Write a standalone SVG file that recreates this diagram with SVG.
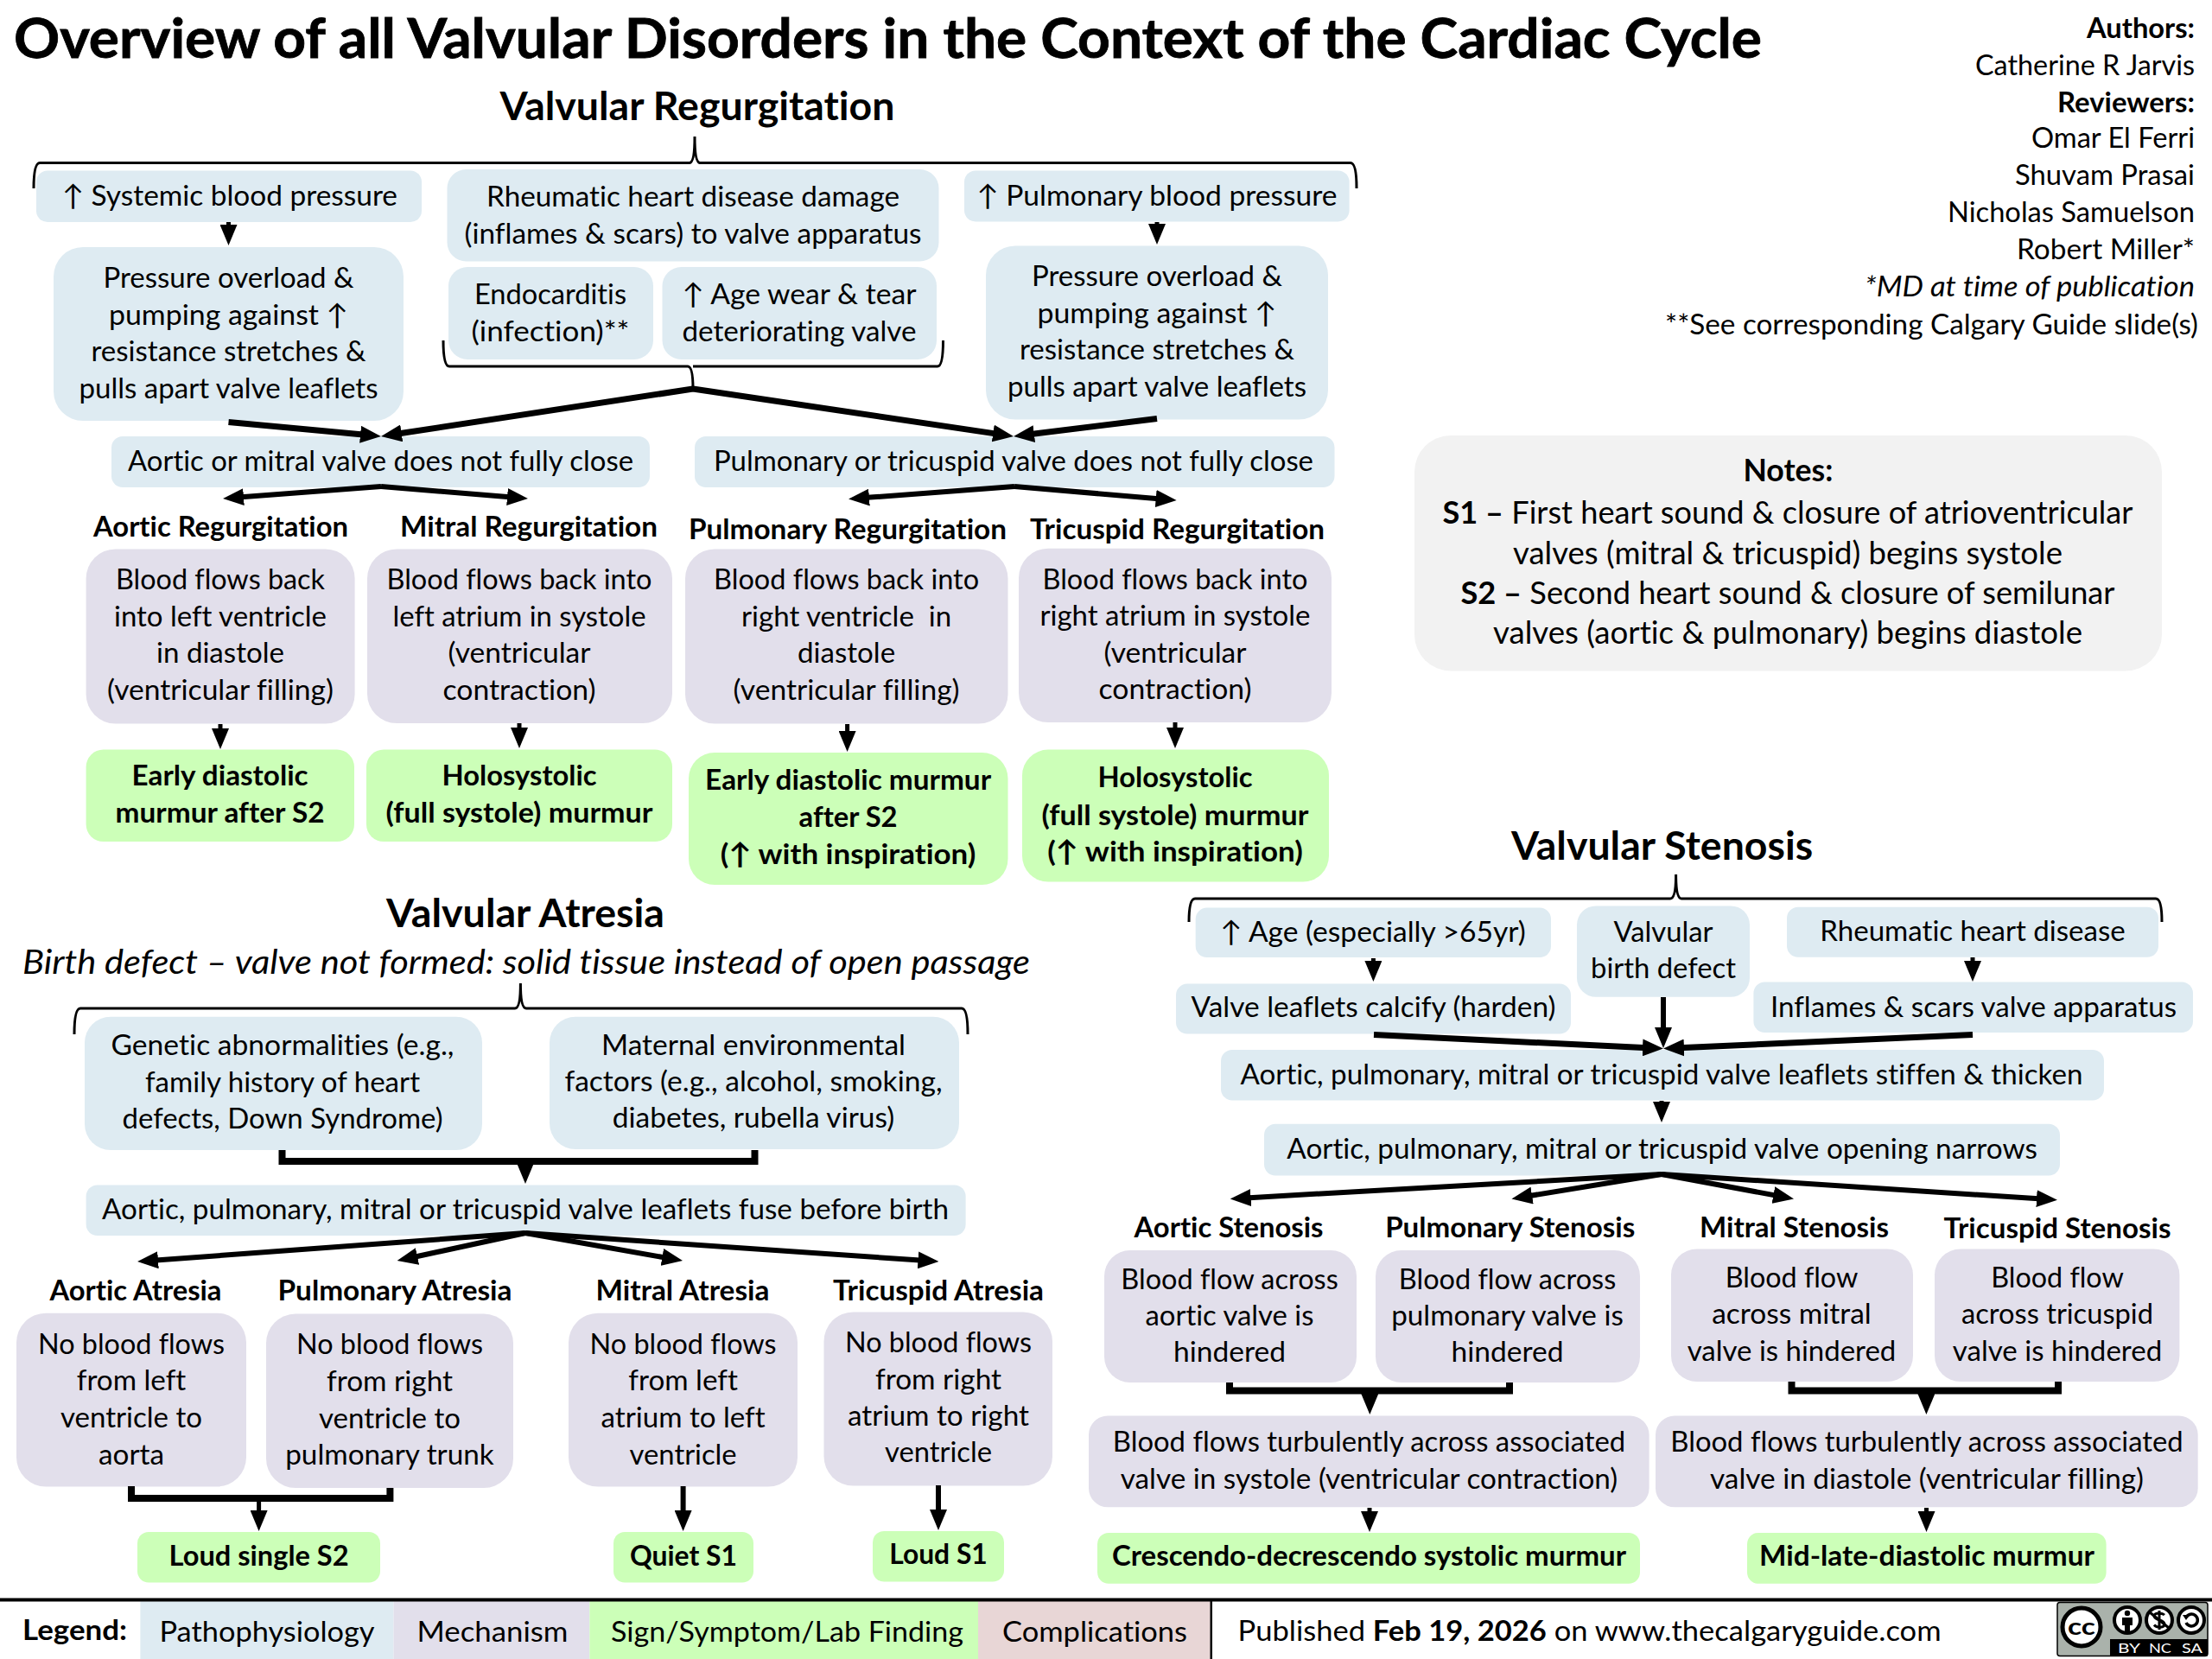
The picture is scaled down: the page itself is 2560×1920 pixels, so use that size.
<svg xmlns="http://www.w3.org/2000/svg" width="2560" height="1920" viewBox="0 0 2560 1920">
<style>
text{font-family:Lato,"Noto Sans","DejaVu Sans",sans-serif;font-size:33px;text-anchor:middle;fill:#000;font-variant-ligatures:none}
.bd{font-weight:700}
.it{font-style:italic}
.r{text-anchor:end}
.s{text-anchor:start}
.h{font-weight:700;font-size:33px}
.sec{font-weight:700;font-size:45px}
.n{font-size:36px}
.pb{fill:#deebf2}
.pu{fill:#e2dfeb}
.gr{fill:#ccffb8}
.re{fill:#e8d6d6}
.no{fill:#f2f2f2}
.br{fill:none;stroke:#000;stroke-width:3}
.th{fill:none;stroke:#000;stroke-width:7;marker-end:url(#ah)}
.me{fill:none;stroke:#000;stroke-width:6;marker-end:url(#ah)}
.sm{fill:none;stroke:#000;stroke-width:5;marker-end:url(#ah)}
.bk{fill:none;stroke:#000;stroke-width:8}
</style>
<defs>
<marker id="ah" markerUnits="userSpaceOnUse" markerWidth="24" markerHeight="20" viewBox="0 0 24 20" refX="6" refY="10" orient="auto"><path d="M0 0L24 10L0 20Z" fill="#000"/></marker>
</defs>
<rect width="2560" height="1920" fill="#fff"/>

<g id="titles">
<text class="s bd" x="16" y="67" style="font-size:64px;stroke:#000;stroke-width:.8" textLength="2023" lengthAdjust="spacingAndGlyphs">Overview of all Valvular Disorders in the Context of the Cardiac Cycle</text>
<text class="sec" x="807" y="139" textLength="457" lengthAdjust="spacingAndGlyphs">Valvular Regurgitation</text>
<text class="sec" x="608" y="1073" textLength="322" lengthAdjust="spacingAndGlyphs">Valvular Atresia</text>
<text class="it" style="font-size:38px" x="609" y="1127" textLength="1166" lengthAdjust="spacingAndGlyphs">Birth defect – valve not formed: solid tissue instead of open passage</text>
<text class="sec" x="1923.6" y="995" textLength="349" lengthAdjust="spacingAndGlyphs">Valvular Stenosis</text>
</g>

<g id="authors">
<text class="r bd" x="2540" y="44" textLength="125" lengthAdjust="spacingAndGlyphs">Authors:</text>
<text class="r" x="2540" y="87" textLength="254" lengthAdjust="spacingAndGlyphs">Catherine R Jarvis</text>
<text class="r bd" x="2540" y="130" textLength="159" lengthAdjust="spacingAndGlyphs">Reviewers:</text>
<text class="r" x="2540" y="171" textLength="189" lengthAdjust="spacingAndGlyphs">Omar El Ferri</text>
<text class="r" x="2540" y="214" textLength="208" lengthAdjust="spacingAndGlyphs">Shuvam Prasai</text>
<text class="r" x="2540" y="257" textLength="286" lengthAdjust="spacingAndGlyphs">Nicholas Samuelson</text>
<text class="r" x="2540" y="300" textLength="206" lengthAdjust="spacingAndGlyphs">Robert Miller*</text>
<text class="r it" x="2540" y="343" textLength="382" lengthAdjust="spacingAndGlyphs">*MD at time of publication</text>
<text class="r" x="2544" y="387" textLength="617" lengthAdjust="spacingAndGlyphs">**See corresponding Calgary Guide slide(s)</text>
</g>

<g id="notes">
<rect class="no" x="1637" y="504" width="865" height="272.5" rx="42"/>
<text class="n bd" x="2069.4" y="557" textLength="104" lengthAdjust="spacingAndGlyphs">Notes:</text>
<text class="n" x="2069" y="606" textLength="799" lengthAdjust="spacingAndGlyphs"><tspan class="bd">S1 –</tspan> First heart sound &amp; closure of atrioventricular</text>
<text class="n" x="2069" y="653" textLength="636" lengthAdjust="spacingAndGlyphs">valves (mitral &amp; tricuspid) begins systole</text>
<text class="n" x="2069" y="699" textLength="757" lengthAdjust="spacingAndGlyphs"><tspan class="bd">S2 –</tspan> Second heart sound &amp; closure of semilunar</text>
<text class="n" x="2069" y="745" textLength="682" lengthAdjust="spacingAndGlyphs">valves (aortic &amp; pulmonary) begins diastole</text>
</g>

<g id="n-sys"><rect class="pb" x="42" y="197.5" width="446" height="59.5" rx="13"/>
<text x="266" y="237.5" textLength="388" lengthAdjust="spacingAndGlyphs">↑ Systemic blood pressure</text></g>
<g id="n-over1"><rect class="pb" x="62" y="286" width="405" height="201" rx="34"/>
<text x="264.5" y="333" textLength="290" lengthAdjust="spacingAndGlyphs">Pressure overload &amp;</text>
<text x="264.5" y="375.5" textLength="277" lengthAdjust="spacingAndGlyphs">pumping against ↑</text>
<text x="264.5" y="418" textLength="318" lengthAdjust="spacingAndGlyphs">resistance stretches &amp;</text>
<text x="264.5" y="461" textLength="346" lengthAdjust="spacingAndGlyphs">pulls apart valve leaflets</text></g>
<g id="n-rheum"><rect class="pb" x="517.5" y="196" width="569" height="106.5" rx="22"/>
<text x="802" y="239" textLength="478" lengthAdjust="spacingAndGlyphs">Rheumatic heart disease damage</text>
<text x="802" y="281.6" textLength="529" lengthAdjust="spacingAndGlyphs">(inflames &amp; scars) to valve apparatus</text></g>
<g id="n-endo"><rect class="pb" x="519" y="309" width="237" height="107" rx="22"/>
<text x="637" y="352" textLength="176" lengthAdjust="spacingAndGlyphs">Endocarditis</text>
<text x="637" y="395" textLength="183" lengthAdjust="spacingAndGlyphs">(infection)**</text></g>
<g id="n-age"><rect class="pb" x="766.5" y="309" width="317.5" height="107" rx="22"/>
<text x="925" y="352" textLength="271" lengthAdjust="spacingAndGlyphs">↑ Age wear &amp; tear</text>
<text x="925" y="395" textLength="271" lengthAdjust="spacingAndGlyphs">deteriorating valve</text></g>
<g id="n-pulm"><rect class="pb" x="1116" y="197.5" width="445.6" height="59" rx="13"/>
<text x="1339" y="237.5" textLength="417" lengthAdjust="spacingAndGlyphs">↑ Pulmonary blood pressure</text></g>
<g id="n-over2"><rect class="pb" x="1141" y="284.5" width="396" height="201" rx="34"/>
<text x="1339" y="331.4" textLength="290" lengthAdjust="spacingAndGlyphs">Pressure overload &amp;</text>
<text x="1339" y="373.5" textLength="277" lengthAdjust="spacingAndGlyphs">pumping against ↑</text>
<text x="1339" y="416" textLength="318" lengthAdjust="spacingAndGlyphs">resistance stretches &amp;</text>
<text x="1339" y="459" textLength="346" lengthAdjust="spacingAndGlyphs">pulls apart valve leaflets</text></g>
<g id="n-am"><rect class="pb" x="129" y="505" width="623" height="59" rx="13"/>
<text x="440.5" y="545" textLength="585" lengthAdjust="spacingAndGlyphs">Aortic or mitral valve does not fully close</text></g>
<g id="n-pt"><rect class="pb" x="804" y="505" width="740.5" height="59" rx="13"/>
<text x="1173" y="545" textLength="694" lengthAdjust="spacingAndGlyphs">Pulmonary or tricuspid valve does not fully close</text></g>

<g id="n-ar"><text class="h" x="255.5" y="621" textLength="295" lengthAdjust="spacingAndGlyphs">Aortic Regurgitation</text>
<rect class="pu" x="99.6" y="635.5" width="311" height="202" rx="34"/>
<text x="255" y="682.4" textLength="242" lengthAdjust="spacingAndGlyphs">Blood flows back</text>
<text x="255" y="725" textLength="246" lengthAdjust="spacingAndGlyphs">into left ventricle</text>
<text x="255" y="767.4" textLength="148" lengthAdjust="spacingAndGlyphs">in diastole</text>
<text x="255" y="810" textLength="262" lengthAdjust="spacingAndGlyphs">(ventricular filling)</text></g>
<g id="n-mr"><text class="h" x="612" y="621" textLength="298" lengthAdjust="spacingAndGlyphs">Mitral Regurgitation</text>
<rect class="pu" x="425" y="635.5" width="353" height="201.5" rx="34"/>
<text x="601" y="682.4" textLength="307" lengthAdjust="spacingAndGlyphs">Blood flows back into</text>
<text x="601" y="725" textLength="293" lengthAdjust="spacingAndGlyphs">left atrium in systole</text>
<text x="601" y="767.4" textLength="165" lengthAdjust="spacingAndGlyphs">(ventricular</text>
<text x="601" y="810" textLength="177" lengthAdjust="spacingAndGlyphs">contraction)</text></g>
<g id="n-pr"><text class="h" x="981" y="624" textLength="368" lengthAdjust="spacingAndGlyphs">Pulmonary Regurgitation</text>
<rect class="pu" x="793" y="635.5" width="373.5" height="202" rx="34"/>
<text x="979.6" y="682.4" textLength="307" lengthAdjust="spacingAndGlyphs">Blood flows back into</text>
<text x="979.6" y="725" textLength="243" lengthAdjust="spacingAndGlyphs" xml:space="preserve">right ventricle  in</text>
<text x="979.6" y="767.4" textLength="113" lengthAdjust="spacingAndGlyphs">diastole</text>
<text x="979.6" y="810" textLength="262" lengthAdjust="spacingAndGlyphs">(ventricular filling)</text></g>
<g id="n-tr"><text class="h" x="1362.5" y="624" textLength="341" lengthAdjust="spacingAndGlyphs">Tricuspid Regurgitation</text>
<rect class="pu" x="1179" y="634.7" width="362" height="201.3" rx="34"/>
<text x="1360" y="681.5" textLength="307" lengthAdjust="spacingAndGlyphs">Blood flows back into</text>
<text x="1360" y="724" textLength="313" lengthAdjust="spacingAndGlyphs">right atrium in systole</text>
<text x="1360" y="766.5" textLength="165" lengthAdjust="spacingAndGlyphs">(ventricular</text>
<text x="1360" y="809" textLength="177" lengthAdjust="spacingAndGlyphs">contraction)</text></g>

<g id="n-g1"><rect class="gr" x="99.6" y="867.6" width="310.4" height="106.4" rx="20"/>
<text class="bd" x="254.6" y="909" textLength="204" lengthAdjust="spacingAndGlyphs">Early diastolic</text>
<text class="bd" x="254.6" y="951.7" textLength="242" lengthAdjust="spacingAndGlyphs">murmur after S2</text></g>
<g id="n-g2"><rect class="gr" x="424" y="867.6" width="354" height="106.4" rx="20"/>
<text class="bd" x="601" y="909" textLength="179" lengthAdjust="spacingAndGlyphs">Holosystolic</text>
<text class="bd" x="601" y="951.7" textLength="309" lengthAdjust="spacingAndGlyphs">(full systole) murmur</text></g>
<g id="n-g3"><rect class="gr" x="797" y="871" width="369.5" height="153" rx="30"/>
<text class="bd" x="981.6" y="914.4" textLength="331" lengthAdjust="spacingAndGlyphs">Early diastolic murmur</text>
<text class="bd" x="981.6" y="956.5" textLength="114" lengthAdjust="spacingAndGlyphs">after S2</text>
<text class="bd" x="981.6" y="999.8" textLength="295.5" lengthAdjust="spacingAndGlyphs">(↑ with inspiration)</text></g>
<g id="n-g4"><rect class="gr" x="1183" y="867.6" width="355" height="153" rx="30"/>
<text class="bd" x="1360" y="911.4" textLength="179" lengthAdjust="spacingAndGlyphs">Holosystolic</text>
<text class="bd" x="1360" y="954.7" textLength="309" lengthAdjust="spacingAndGlyphs">(full systole) murmur</text>
<text class="bd" x="1360" y="996.8" textLength="295.5" lengthAdjust="spacingAndGlyphs">(↑ with inspiration)</text></g>

<g id="n-gen"><rect class="pb" x="98" y="1176.8" width="460" height="154.2" rx="30"/>
<text x="327" y="1221.4" textLength="397" lengthAdjust="spacingAndGlyphs">Genetic abnormalities (e.g.,</text>
<text x="327" y="1263.5" textLength="318" lengthAdjust="spacingAndGlyphs">family history of heart</text>
<text x="327" y="1306" textLength="371" lengthAdjust="spacingAndGlyphs">defects, Down Syndrome)</text></g>
<g id="n-mat"><rect class="pb" x="636" y="1176.8" width="474" height="153.2" rx="30"/>
<text x="872" y="1221" textLength="352" lengthAdjust="spacingAndGlyphs">Maternal environmental</text>
<text x="872" y="1263" textLength="437" lengthAdjust="spacingAndGlyphs">factors (e.g., alcohol, smoking,</text>
<text x="872" y="1305" textLength="326.5" lengthAdjust="spacingAndGlyphs">diabetes, rubella virus)</text></g>
<g id="n-fuse"><rect class="pb" x="99.6" y="1371.4" width="1018" height="58.6" rx="13"/>
<text x="608" y="1411" textLength="980" lengthAdjust="spacingAndGlyphs">Aortic, pulmonary, mitral or tricuspid valve leaflets fuse before birth</text></g>

<g id="n-aa"><text class="h" x="157" y="1504.5" textLength="199" lengthAdjust="spacingAndGlyphs">Aortic Atresia</text>
<rect class="pu" x="19" y="1519.7" width="266" height="200.8" rx="34"/>
<text x="152" y="1566.5" textLength="216" lengthAdjust="spacingAndGlyphs">No blood flows</text>
<text x="152" y="1608.6" textLength="126.5" lengthAdjust="spacingAndGlyphs">from left</text>
<text x="152" y="1652" textLength="164" lengthAdjust="spacingAndGlyphs">ventricle to</text>
<text x="152" y="1694.5" textLength="76" lengthAdjust="spacingAndGlyphs">aorta</text></g>
<g id="n-pa"><text class="h" x="457" y="1504.5" textLength="271" lengthAdjust="spacingAndGlyphs">Pulmonary Atresia</text>
<rect class="pu" x="308" y="1520.6" width="286" height="201.4" rx="34"/>
<text x="451" y="1567.4" textLength="216" lengthAdjust="spacingAndGlyphs">No blood flows</text>
<text x="451" y="1610" textLength="146" lengthAdjust="spacingAndGlyphs">from right</text>
<text x="451" y="1653" textLength="164" lengthAdjust="spacingAndGlyphs">ventricle to</text>
<text x="451" y="1695" textLength="241.6" lengthAdjust="spacingAndGlyphs">pulmonary trunk</text></g>
<g id="n-ma"><text class="h" x="790" y="1504.5" textLength="201" lengthAdjust="spacingAndGlyphs">Mitral Atresia</text>
<rect class="pu" x="658" y="1519.7" width="265" height="200.8" rx="34"/>
<text x="790.6" y="1566.5" textLength="216" lengthAdjust="spacingAndGlyphs">No blood flows</text>
<text x="790.6" y="1608.6" textLength="126.5" lengthAdjust="spacingAndGlyphs">from left</text>
<text x="790.6" y="1652" textLength="190" lengthAdjust="spacingAndGlyphs">atrium to left</text>
<text x="790.6" y="1694.5" textLength="124" lengthAdjust="spacingAndGlyphs">ventricle</text></g>
<g id="n-ta"><text class="h" x="1086" y="1504.5" textLength="244" lengthAdjust="spacingAndGlyphs">Tricuspid Atresia</text>
<rect class="pu" x="953.5" y="1518.4" width="264.5" height="201.2" rx="34"/>
<text x="1086" y="1565" textLength="216" lengthAdjust="spacingAndGlyphs">No blood flows</text>
<text x="1086" y="1607.7" textLength="146" lengthAdjust="spacingAndGlyphs">from right</text>
<text x="1086" y="1650" textLength="210" lengthAdjust="spacingAndGlyphs">atrium to right</text>
<text x="1086" y="1692" textLength="124" lengthAdjust="spacingAndGlyphs">ventricle</text></g>
<g id="n-ls2"><rect class="gr" x="159" y="1773" width="281" height="58.5" rx="13"/>
<text class="bd" x="299.6" y="1812.4" textLength="208" lengthAdjust="spacingAndGlyphs">Loud single S2</text></g>
<g id="n-qs1"><rect class="gr" x="710" y="1773" width="162" height="58.5" rx="13"/>
<text class="bd" x="791" y="1812.4" textLength="124" lengthAdjust="spacingAndGlyphs">Quiet S1</text></g>
<g id="n-ls1"><rect class="gr" x="1010" y="1772" width="152" height="58.6" rx="13"/>
<text class="bd" x="1086" y="1810" textLength="113.5" lengthAdjust="spacingAndGlyphs">Loud S1</text></g>

<g id="n-sage"><rect class="pb" x="1383.7" y="1050.6" width="411.3" height="57.4" rx="13"/>
<text x="1589" y="1090" textLength="353.5" lengthAdjust="spacingAndGlyphs">↑ Age (especially &gt;65yr)</text></g>
<g id="n-calc"><rect class="pb" x="1361" y="1138.6" width="457" height="58" rx="13"/>
<text x="1589.5" y="1176.8" textLength="422" lengthAdjust="spacingAndGlyphs">Valve leaflets calcify (harden)</text></g>
<g id="n-bd"><rect class="pb" x="1825" y="1048.4" width="200" height="105.4" rx="22"/>
<text x="1925" y="1090" textLength="115" lengthAdjust="spacingAndGlyphs">Valvular</text>
<text x="1925" y="1131.6" textLength="168" lengthAdjust="spacingAndGlyphs">birth defect</text></g>
<g id="n-srh"><rect class="pb" x="2068" y="1049.7" width="430" height="58.1" rx="13"/>
<text x="2283" y="1089" textLength="353.5" lengthAdjust="spacingAndGlyphs">Rheumatic heart disease</text></g>
<g id="n-infl"><rect class="pb" x="2029.4" y="1136.4" width="508.6" height="58.6" rx="13"/>
<text x="2284" y="1176.8" textLength="470" lengthAdjust="spacingAndGlyphs">Inflames &amp; scars valve apparatus</text></g>
<g id="n-stiff"><rect class="pb" x="1413" y="1215" width="1022" height="58.4" rx="13"/>
<text x="1923" y="1254.8" textLength="975" lengthAdjust="spacingAndGlyphs">Aortic, pulmonary, mitral or tricuspid valve leaflets stiffen &amp; thicken</text></g>
<g id="n-narrow"><rect class="pb" x="1463" y="1300.7" width="921" height="59.8" rx="13"/>
<text x="1923.6" y="1340.6" textLength="868.6" lengthAdjust="spacingAndGlyphs">Aortic, pulmonary, mitral or tricuspid valve opening narrows</text></g>

<g id="n-as"><text class="h" x="1422" y="1432" textLength="219" lengthAdjust="spacingAndGlyphs">Aortic Stenosis</text>
<rect class="pu" x="1278" y="1446.9" width="292" height="153.1" rx="30"/>
<text x="1423" y="1491.5" textLength="251.4" lengthAdjust="spacingAndGlyphs">Blood flow across</text>
<text x="1423" y="1534" textLength="195" lengthAdjust="spacingAndGlyphs">aortic valve is</text>
<text x="1423" y="1576" textLength="130" lengthAdjust="spacingAndGlyphs">hindered</text></g>
<g id="n-ps"><text class="h" x="1747.7" y="1432" textLength="289" lengthAdjust="spacingAndGlyphs">Pulmonary Stenosis</text>
<rect class="pu" x="1592" y="1446.9" width="306" height="153.1" rx="30"/>
<text x="1744.5" y="1491.5" textLength="251.4" lengthAdjust="spacingAndGlyphs">Blood flow across</text>
<text x="1744.5" y="1534" textLength="268.6" lengthAdjust="spacingAndGlyphs">pulmonary valve is</text>
<text x="1744.5" y="1576" textLength="130" lengthAdjust="spacingAndGlyphs">hindered</text></g>
<g id="n-ms"><text class="h" x="2076.5" y="1432" textLength="219" lengthAdjust="spacingAndGlyphs">Mitral Stenosis</text>
<rect class="pu" x="1934" y="1445.5" width="280" height="153.5" rx="30"/>
<text x="2073.5" y="1489.8" textLength="153.5" lengthAdjust="spacingAndGlyphs">Blood flow</text>
<text x="2073.5" y="1532" textLength="184.5" lengthAdjust="spacingAndGlyphs">across mitral</text>
<text x="2073.5" y="1574.8" textLength="241.6" lengthAdjust="spacingAndGlyphs">valve is hindered</text></g>
<g id="n-ts"><text class="h" x="2381" y="1433" textLength="263" lengthAdjust="spacingAndGlyphs">Tricuspid Stenosis</text>
<rect class="pu" x="2239" y="1445.5" width="283.4" height="153.5" rx="30"/>
<text x="2381" y="1489.8" textLength="153.5" lengthAdjust="spacingAndGlyphs">Blood flow</text>
<text x="2381" y="1532" textLength="222" lengthAdjust="spacingAndGlyphs">across tricuspid</text>
<text x="2381" y="1574.8" textLength="242.4" lengthAdjust="spacingAndGlyphs">valve is hindered</text></g>
<g id="n-t1"><rect class="pu" x="1260" y="1638.5" width="648.6" height="105.8" rx="22"/>
<text x="1584.5" y="1680" textLength="593.5" lengthAdjust="spacingAndGlyphs">Blood flows turbulently across associated</text>
<text x="1584.5" y="1722.7" textLength="575.5" lengthAdjust="spacingAndGlyphs">valve in systole (ventricular contraction)</text></g>
<g id="n-t2"><rect class="pu" x="1916" y="1638.5" width="627.7" height="105.8" rx="22"/>
<text x="2230" y="1680" textLength="593.5" lengthAdjust="spacingAndGlyphs">Blood flows turbulently across associated</text>
<text x="2230" y="1722.7" textLength="502" lengthAdjust="spacingAndGlyphs">valve in diastole (ventricular filling)</text></g>
<g id="n-cres"><rect class="gr" x="1270" y="1774" width="628" height="58.8" rx="13"/>
<text class="bd" x="1584.5" y="1812.4" textLength="595" lengthAdjust="spacingAndGlyphs">Crescendo-decrescendo systolic murmur</text></g>
<g id="n-mid"><rect class="gr" x="2022" y="1774" width="415.6" height="58.8" rx="13"/>
<text class="bd" x="2230" y="1812.4" textLength="388" lengthAdjust="spacingAndGlyphs">Mid-late-diastolic murmur</text></g>

<g id="connectors">
<path class="br" d="M39 218Q39 188.6 46 188.6L798 188.6Q804 188 804 158Q804 188 810 188.6L1563 188.6Q1570 188.6 1570 218"/>
<path class="br" d="M513 394Q513 424 520 424L796 424Q802 424 802 450M802 424Q802 424 808 424L1085 424Q1091.5 424 1091.5 394"/>
<path class="br" d="M86 1197Q86 1167 93 1167L596 1167Q602.4 1167 602.4 1138Q602.4 1167 609 1167L1113 1167Q1120 1167 1120 1197"/>
<path class="br" d="M1376 1067Q1376 1040 1383 1040L1933 1040Q1939.6 1040 1939.6 1012Q1939.6 1040 1946 1040L2495 1040Q2502 1040 2502 1067"/>

<path class="sm" d="M264.5 257V266"/>
<path class="sm" d="M1339 257V265"/>
<path class="th" d="M802 450L458.8 502.3"/>
<path class="th" d="M802 450L1155.2 502.4"/>
<path class="th" d="M264.5 488.5L423 503.3"/>
<path class="th" d="M1339 484.5L1190.9 502.8"/>
<path class="me" d="M441 563L276 575.6"/>
<path class="me" d="M441 563L593 575.5"/>
<path class="me" d="M1174 563L1000 576.1"/>
<path class="me" d="M1174 563L1343.7 577.5"/>
<path class="sm" d="M255 838V849"/>
<path class="sm" d="M601 837V848"/>
<path class="sm" d="M980.6 838V852"/>
<path class="sm" d="M1360 836V848"/>

<path class="bk" d="M326.5 1331V1344H873.5V1331"/>
<path class="sm" d="M608 1344V1352"/>
<path class="me" d="M608 1427L177 1458.7"/>
<path class="me" d="M608 1427L477.2 1455.2"/>
<path class="me" d="M608 1427L772.3 1455.9"/>
<path class="me" d="M608 1427L1068.5 1458.8"/>
<path class="bk" d="M152 1720V1734H451.4V1722"/>
<path class="sm" d="M299.6 1734V1754"/>
<path class="me" d="M790.6 1720V1754"/>
<path class="me" d="M1086 1719V1753"/>

<path class="sm" d="M1589.4 1109V1118"/>
<path class="sm" d="M2283 1108V1118"/>
<path class="me" d="M1925 1154V1195"/>
<path class="th" d="M1590 1197.6L1907 1212.7"/>
<path class="th" d="M2283 1197.6L1943 1212.8"/>
<path class="sm" d="M1923 1274V1281"/>
<path class="me" d="M1923 1359L1441.7 1386.4"/>
<path class="me" d="M1923 1359L1767.2 1384.5"/>
<path class="me" d="M1923 1359L2058.3 1384.1"/>
<path class="me" d="M1923 1359L2363 1387.5"/>
<path class="bk" d="M1423 1600V1609.5H1747V1600"/>
<path class="bk" d="M2073.5 1599V1609.5H2382V1599"/>
<path class="sm" d="M1585.3 1609.5V1619"/>
<path class="sm" d="M2229.4 1609.5V1619"/>
<path class="sm" d="M1585 1745V1755"/>
<path class="sm" d="M2229.5 1745V1755"/>
</g>

<g id="legend">
<rect class="pb" x="162.4" y="1853" width="293.1" height="67"/>
<rect class="pu" x="455.5" y="1853" width="226.9" height="67"/>
<rect class="gr" x="682.4" y="1853" width="449.6" height="67"/>
<rect class="re" x="1132" y="1853" width="269" height="67"/>
<rect x="0" y="1849.5" width="2560" height="4" fill="#000"/>
<rect x="1400.5" y="1853" width="2.5" height="67" fill="#000"/>
<text class="bd" x="86.5" y="1898" textLength="121" lengthAdjust="spacingAndGlyphs">Legend:</text>
<text x="309" y="1900" textLength="249" lengthAdjust="spacingAndGlyphs">Pathophysiology</text>
<text x="570" y="1900" textLength="175" lengthAdjust="spacingAndGlyphs">Mechanism</text>
<text x="911" y="1900" textLength="408" lengthAdjust="spacingAndGlyphs">Sign/Symptom/Lab Finding</text>
<text x="1267" y="1900" textLength="214" lengthAdjust="spacingAndGlyphs">Complications</text>
<text class="s" x="1432.6" y="1899" textLength="814" lengthAdjust="spacingAndGlyphs">Published <tspan class="bd">Feb 19, 2026</tspan> on www.thecalgaryguide.com</text>
</g>

<g id="cc-badge">
<rect x="2381" y="1854.5" width="174" height="62" rx="3" fill="#aab2ab" stroke="#000" stroke-width="1.5"/>
<rect x="2442" y="1897" width="113" height="19.5" fill="#000"/>
<circle cx="2409" cy="1883" r="22" fill="#fff" stroke="#000" stroke-width="5"/>
<text class="bd" x="2409" y="1892" style="font-size:26px" textLength="32" lengthAdjust="spacingAndGlyphs">cc</text>
<circle cx="2462" cy="1875" r="15" fill="#fff" stroke="#000" stroke-width="4"/>
<circle cx="2462" cy="1867" r="3.2" fill="#000"/>
<path d="M2456 1872h12v9h-3v8h-6v-8h-3z" fill="#000"/>
<circle cx="2499" cy="1875" r="15" fill="#fff" stroke="#000" stroke-width="4"/>
<path d="M2505 1869c-3-3-12-3-12 1.500s12 4 12 9-9 4.500-12 1M2499 1864v22" fill="none" stroke="#000" stroke-width="3"/>
<path d="M2488 1866l22 18" fill="none" stroke="#000" stroke-width="3"/>
<circle cx="2536" cy="1875" r="15" fill="#fff" stroke="#000" stroke-width="4"/>
<path d="M2530 1872a7 7 0 1 1 0 6" fill="none" stroke="#000" stroke-width="3.500"/>
<path d="M2526 1869l8 0-4 6z" fill="#000"/>
<text style="font-size:16px;fill:#fff" x="2464" y="1913" textLength="26" lengthAdjust="spacingAndGlyphs">BY</text>
<text style="font-size:16px;fill:#fff" x="2500" y="1913" textLength="26" lengthAdjust="spacingAndGlyphs">NC</text>
<text style="font-size:16px;fill:#fff" x="2537" y="1913" textLength="24" lengthAdjust="spacingAndGlyphs">SA</text>
</g>
</svg>
